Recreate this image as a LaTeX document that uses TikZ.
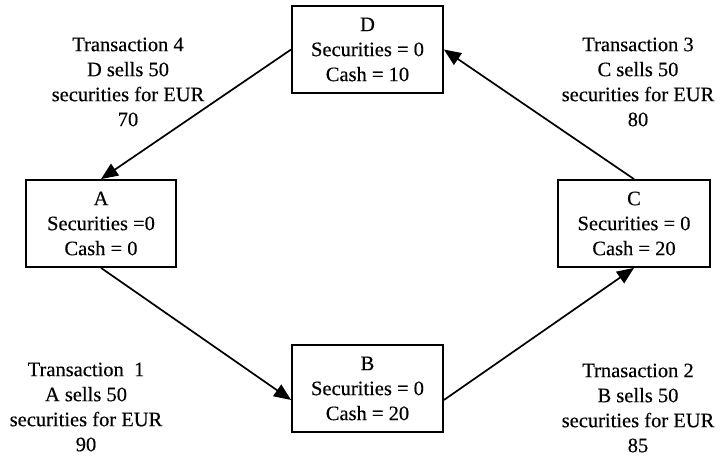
\documentclass[tikz,border=0pt]{standalone}
\usepackage{fontspec}
\setmainfont{Liberation Serif}
\newfontfamily\diagfont[FakeBold=0.35]{Liberation Serif}
\usetikzlibrary{arrows.meta}
\begin{document}
\begin{tikzpicture}[x=1bp,y=-1bp,
  acct/.style={draw,line width=1.8bp,minimum width=151bp,minimum height=87bp,inner sep=0pt,align=center,font=\diagfont\fontsize{20.5bp}{25bp}\selectfont},
  txn/.style={align=center,inner sep=0pt,font=\diagfont\fontsize{20.5bp}{25bp}\selectfont},
  flow/.style={line width=1.7bp,-{Triangle[length=17bp,width=14bp]}}]
\useasboundingbox[fill=white] (0,0) rectangle (720,457);
\node[acct] (D) at (367.5,49.5) {D\\Securities = 0\\Cash = 10};
\node[acct,minimum width=150bp] (A) at (101,223.5) {A\\Securities =0\\Cash = 0};
\node[acct] (B) at (367.5,388.5) {B\\Securities = 0\\Cash = 20};
\node[acct,minimum width=152bp] (C) at (634,223.5) {C\\Securities = 0\\Cash = 20};
\node[txn] (t4) at (128,82) {Transaction 4\\D sells 50\\securities for EUR\\70};
\node[txn] (t3) at (638,82) {Transaction 3\\C sells 50\\securities for EUR\\80};
\node[txn] (t1) at (86,407) {Transaction\ \ 1\\A sells 50\\securities for EUR\\90};
\node[txn] (t2) at (638,408) {Trnasaction 2\\B sells 50\\securities for EUR\\85};
\draw[flow] (D.west) -- (A.north);
\draw[flow] (A.south) -- ([yshift=-11.5bp]B.west);
\draw[flow] ([yshift=-11.5bp]B.east) -- (C.south);
\draw[flow] (C.north) -- (D.east);
\end{tikzpicture}
\end{document}
